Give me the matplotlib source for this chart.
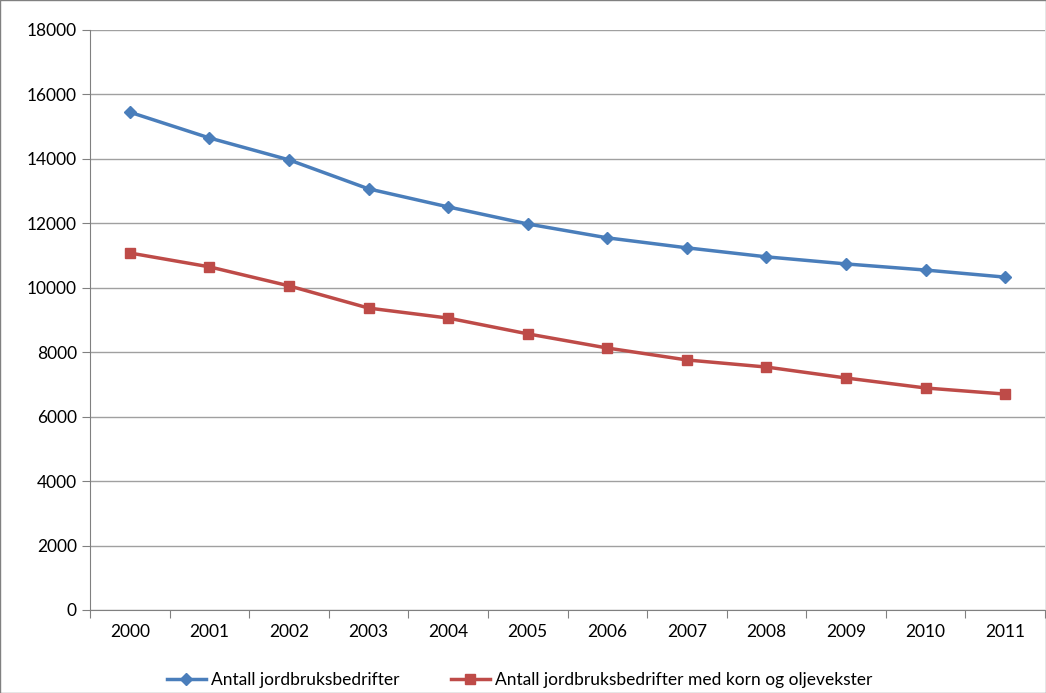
import matplotlib.pyplot as plt
import numpy as np

plt.rcParams['font.family'] = ['Lato', 'DejaVu Sans']

years = ["2000", "2001", "2002", "2003", "2004", "2005",
         "2006", "2007", "2008", "2009", "2010", "2011"]
alle = [15450, 14650, 13970, 13070, 12510, 11980,
        11550, 11240, 10960, 10740, 10550, 10330]
korn = [11080, 10650, 10060, 9370, 9060, 8570,
        8130, 7760, 7540, 7200, 6890, 6700]

fig = plt.figure(figsize=(10.46, 6.93), dpi=100)
ax = fig.add_axes([90 / 1046, 83 / 693, 955 / 1046, 580 / 693])
x = np.arange(len(years))

ax.plot(x, alle, color="#4a7ebb", lw=2.5, marker="D", ms=6,
        label="Antall jordbruksbedrifter")
ax.plot(x, korn, color="#be4b48", lw=2.5, marker="s", ms=7,
        label="Antall jordbruksbedrifter med korn og oljevekster")

ax.set_xlim(-0.5, len(years) - 0.5)
ax.set_ylim(0, 18000)
ax.set_yticks(range(0, 18001, 2000))
ax.yaxis.grid(True, color="#a0a0a0", lw=1)
ax.set_axisbelow(True)
ax.set_xticks(np.arange(-0.5, len(years)), minor=False)
ax.set_xticklabels([])
ax.set_xticks(x, minor=True)
ax.set_xticklabels(years, minor=True)
ax.tick_params(axis="x", which="major", length=6, color="#808080")
ax.tick_params(axis="x", which="minor", length=0, pad=10, labelsize=12.5)
ax.tick_params(axis="y", length=6, color="#808080", labelsize=12.5)
for s in ["top", "right"]:
    ax.spines[s].set_visible(False)
for s in ["left", "bottom"]:
    ax.spines[s].set_color("#808080")

ax.legend(loc="upper center", bbox_to_anchor=(0.45, -0.08), ncol=2,
          frameon=False, fontsize=12.5, handlelength=2.2,
          handletextpad=0.3, columnspacing=3)

fig.patches.append(plt.Rectangle((0, 0), 1, 1, transform=fig.transFigure,
                                 fill=False, edgecolor="#808080", lw=1))
fig.savefig("out.png", dpi=100)
